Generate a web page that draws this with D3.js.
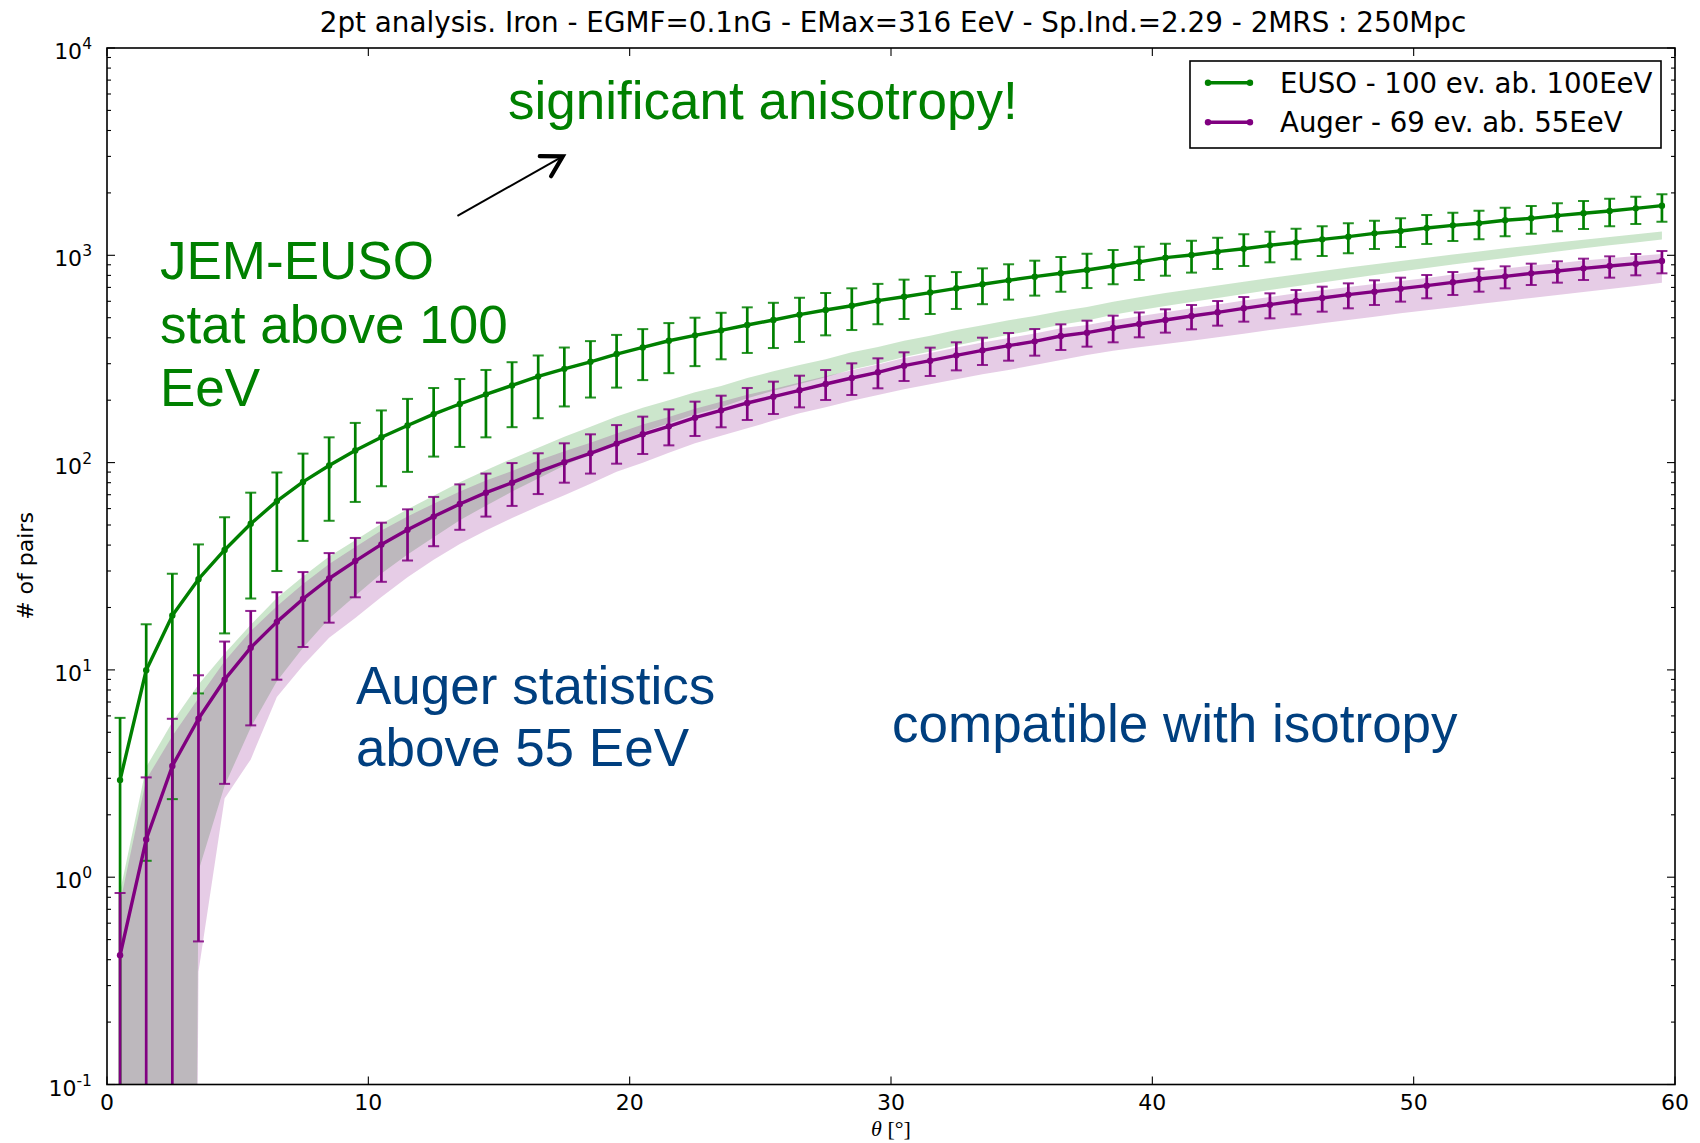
<!DOCTYPE html>
<html><head><meta charset="utf-8">
<script src="https://cdn.jsdelivr.net/npm/d3@7"></script>
<style>html,body{margin:0;padding:0;background:#fff;} svg{display:block}</style>
</head><body><svg id="c" width="1700" height="1143"></svg>
<script>
// ---------------- data ----------------
const theta = [0.5,1.5,2.5,3.5,4.5,5.5,6.5,7.5,8.5,9.5,10.5,11.5,12.5,13.5,14.5,15.5,16.5,17.5,18.5,19.5,20.5,21.5,22.5,23.5,24.5,25.5,26.5,27.5,28.5,29.5,30.5,31.5,32.5,33.5,34.5,35.5,36.5,37.5,38.5,39.5,40.5,41.5,42.5,43.5,44.5,45.5,46.5,47.5,48.5,49.5,50.5,51.5,52.5,53.5,54.5,55.5,56.5,57.5,58.5,59.5];

// EUSO - 100 ev. ab. 100EeV
const euso   = [2.94,9.96,18.3,27.4,37.9,50.7,65.2,80.7,96.8,114.5,132.5,151,171.4,191.7,213.4,235.6,260.4,283.3,306.4,334,359.6,387,411,434.5,461,487.5,517,544.5,571,604,631,661,693,725,757,789,819,849,888,930,974,1003,1041,1076,1117,1155,1194,1230,1276,1310,1354,1395,1427,1475,1508,1554,1595,1636,1685,1736];
const eusoHi = [5.87,16.6,29.1,40.3,54.5,71.6,89.6,110.5,132.4,155.4,178.5,202.9,229,253,279.8,305,328.6,359,385.5,413,440.5,471,500,528,561,590,624,658,693,728,763,794,830,865,905,942,981,1018,1061,1100,1138,1177,1216,1262,1300,1344,1380,1427,1469,1508,1565,1606,1642,1698,1729,1781,1828,1876,1918,1969];
const eusoLo = [0.01,1.2,2.38,7.7,15.0,22.1,30.0,41.9,52.4,64.6,76.9,90.2,106.9,119,132.4,148.2,163.7,186.6,206,230,250,270,292,315,338,357,382,411,436,465,493,521,551,581,611,639,667,695,725,760,797,825,859,888,925,956,992,1022,1073,1096,1134,1172,1194,1235,1272,1305,1340,1380,1416,1453];

// Auger - 69 ev. ab. 55EeV
const auger   = [0.42,1.52,3.44,5.81,8.97,12.8,17.05,22.0,27.6,33.5,40.3,47.4,54.9,63.1,71.6,80.0,90.2,100.4,110.9,123.5,136.9,149.6,164.7,178.7,193.9,208,223.2,239.4,255.9,272.6,293.5,310.2,329.2,348,366.5,384.6,408,423.5,446,466,487.5,509.6,530.8,554.9,578,601.9,622.3,645.8,667.7,690.3,713.7,740.7,768.6,791.7,818.5,840.1,865.3,888.1,911.4,938.9];
const augerHi = [0.839,3.03,5.81,9.42,13.7,19.25,23.7,29.65,36.6,43.3,51.3,59.5,68.3,78.5,88.5,99.5,110.9,123.9,136.9,151.7,166.6,180.7,196.8,210.3,229.1,245.8,262.6,279.7,301.2,318.4,340.4,358.5,380.4,400.5,421.8,441,464.5,483.8,511.5,530,548.8,575.8,601.9,629.2,655.4,680.1,705.8,732.4,757.3,780,803.5,830.6,861.9,884.6,911.4,935.3,963.3,988.5,1014.6,1049];
const augerLo = [0.01,0.01,0.01,0.49,2.82,5.40,8.97,12.9,16.9,22.4,26.6,33.7,39.5,47.4,54.9,61.8,70.5,80.0,88.5,98.8,110,121.1,134.4,148,160.5,171.6,184.7,200.4,211.9,228.2,247.5,261.6,278.6,295.7,310.2,328,349.3,362.5,380.4,402,423.5,439.5,457.7,478.5,496.5,519.1,534.7,554.9,575.8,597.6,620.2,643.4,667.7,692.9,719,737.9,760.2,780,800.5,818.6];

// isotropic expectation bands (nonpositive lower edges given as 1e-20)
const isoEusoLo  = [1e-20,1e-20,1e-20,1.07,2.76,5.28,8.81,12.8,17.7,22.8,29.2,36.0,43.7,52.7,62.0,72.5,83.7,96.7,110.2,125.6,140.5,154.7,171.3,185.1,204.4,221.9,239.7,257.9,280.9,299.6,323.4,343.4,367.6,390.1,414,435.9,462.4,485,516.9,543,569.4,596,623.1,651.4,680.1,709.7,740,771.1,803,835.6,868.6,902.4,936.8,971.6,1007,1043,1080,1117,1154,1192];
const isoEusoHi  = [0.85,3.4,5.6,8.5,12.0,16.5,22.2,28.2,35.2,42.2,50.7,59.5,69.2,80.5,91.8,104.5,117.8,133.2,148.9,166.7,183.8,200,218.5,234.3,256,275.5,295.3,315.5,340.8,361.4,387.5,409.4,435.8,460.2,486.1,509.8,538.6,562.7,597,627,658,686.5,715.8,745.8,776.5,808,840,872.6,906,939.7,974,1009,1044,1080,1116,1153,1190,1227,1264.5,1301];
const isoAugerLo = [1e-20,1e-20,1e-20,0.35,2.4,3.7,7.4,10.5,14.3,17.8,22.5,28,34,40.5,47,54,61.5,69.5,79,90.4,99.9,111.7,123.9,134.9,146.3,159.4,172.9,184.8,199,211.9,225.7,238.5,252.1,266.6,279.7,295.7,312.6,330.4,346.7,360,373.5,387.6,402.2,418.8,436.2,452.6,469.7,487.5,505.8,525,542.8,561.2,582.4,601.9,622.3,643.4,665.3,687.8,711,737.9];
const isoAugerHi = [0.75,2.96,4.8,7.3,11.0,15.4,20.3,26.0,32.4,39.2,47.0,55.0,63.4,72.6,82.0,91.2,102.4,113.5,124.8,138.3,152.7,166.1,182,196.6,212.4,226.7,243.3,260.9,278.9,297.1,319.9,338.1,358.8,379.3,399.5,419.2,444.7,461.6,486.1,507.9,531.4,555.5,578.6,604.8,630,656,678.3,703.9,727.8,752.4,777.9,807.4,837.8,862.9,892.2,915.7,943.2,968,993.4,1014];

const xTicks = [0,10,20,30,40,50,60];
const yExponents = [-1,0,1,2,3,4];
const legendLabels = ["EUSO - 100 ev. ab. 100EeV","Auger - 69 ev. ab. 55EeV"];
const title = "2pt analysis. Iron - EGMF=0.1nG - EMax=316 EeV - Sp.Ind.=2.29 - 2MRS : 250Mpc";

// ---------------- chart ----------------
const GREEN = "#008000", PURPLE = "#800080", BLUE = "#003f7f";
const m = {l:107, r:1675, t:48, b:1084.5};
const x = d3.scaleLinear().domain([0,60]).range([m.l,m.r]);
const y = d3.scaleLog().domain([0.1,1e4]).range([m.b,m.t]);
const svg = d3.select('#c');
svg.append('rect').attr('width',1700).attr('height',1143).attr('fill','#fff');
svg.append('defs').append('clipPath').attr('id','clip').append('rect')
  .attr('x',m.l).attr('y',m.t).attr('width',m.r-m.l).attr('height',m.b-m.t);
const plot = svg.append('g').attr('clip-path','url(#clip)');

function band(lo, hi, color){
  const area = d3.area().x((d,i)=>x(theta[i])).y0((d,i)=>y(lo[i])).y1((d,i)=>y(hi[i]));
  plot.append('path').datum(theta).attr('d',area).attr('fill',color).attr('fill-opacity',0.2);
}
band(isoEusoLo, isoEusoHi, GREEN);
band(isoAugerLo, isoAugerHi, PURPLE);

function series(vals, lo, hi, color){
  const g = plot.append('g');
  theta.forEach((t,i)=>{
    g.append('line').attr('x1',x(t)).attr('x2',x(t)).attr('y1',y(lo[i])).attr('y2',y(hi[i]))
      .attr('stroke',color).attr('stroke-width',2.7);
    [lo[i],hi[i]].forEach(v=>{
      g.append('line').attr('x1',x(t)-5.5).attr('x2',x(t)+5.5).attr('y1',y(v)).attr('y2',y(v))
        .attr('stroke',color).attr('stroke-width',2).attr('stroke-opacity',0.85);
    });
  });
  g.append('path').datum(vals)
    .attr('d', d3.line().x((d,i)=>x(theta[i])).y(d=>y(d)))
    .attr('fill','none').attr('stroke',color).attr('stroke-width',3.4).attr('stroke-linejoin','round');
  g.selectAll('circle.pt').data(vals).enter().append('circle')
    .attr('cx',(d,i)=>x(theta[i])).attr('cy',d=>y(d)).attr('r',3.2).attr('fill',color);
}
series(euso, eusoLo, eusoHi, GREEN);
series(auger, augerLo, augerHi, PURPLE);

// spines
svg.append('rect').attr('x',m.l).attr('y',m.t).attr('width',m.r-m.l).attr('height',m.b-m.t)
  .attr('fill','none').attr('stroke','#000').attr('stroke-width',1.6);

// ticks
const tk = svg.append('g').attr('stroke','#000').attr('stroke-width',1.1);
xTicks.forEach(v=>{
  tk.append('line').attr('x1',x(v)).attr('x2',x(v)).attr('y1',m.b).attr('y2',m.b-8);
  tk.append('line').attr('x1',x(v)).attr('x2',x(v)).attr('y1',m.t).attr('y2',m.t+8);
});
yExponents.forEach(e=>{
  const v = Math.pow(10,e);
  tk.append('line').attr('x1',m.l).attr('x2',m.l+8).attr('y1',y(v)).attr('y2',y(v));
  tk.append('line').attr('x1',m.r).attr('x2',m.r-8).attr('y1',y(v)).attr('y2',y(v));
  if (e < 4) for (let k=2;k<=9;k++){
    const mv = k*v;
    tk.append('line').attr('x1',m.l).attr('x2',m.l+4).attr('y1',y(mv)).attr('y2',y(mv));
    tk.append('line').attr('x1',m.r).attr('x2',m.r-4).attr('y1',y(mv)).attr('y2',y(mv));
  }
});

const FONT = "'DejaVu Sans', sans-serif";
// x tick labels
svg.append('g').selectAll('text').data(xTicks).enter().append('text')
  .attr('x',d=>x(d)).attr('y',1110).attr('text-anchor','middle')
  .attr('font-family',FONT).attr('font-size',22).text(d=>d);
// y tick labels
yExponents.forEach(e=>{
  const t = svg.append('text').attr('x',92).attr('y',y(Math.pow(10,e))+11)
    .attr('text-anchor','end').attr('font-family',FONT).attr('font-size',22);
  t.append('tspan').text('10');
  t.append('tspan').attr('font-size',15.5).attr('dy',-10).text(String(e));
});

// axis labels
const xl = svg.append('text').attr('x',891).attr('y',1136).attr('text-anchor','middle')
  .attr('font-size',22);
xl.append('tspan').attr('font-family',"'Liberation Serif', serif").attr('font-style','italic').text('θ');
xl.append('tspan').attr('font-family',"'Liberation Serif', serif").text(' [°]');
svg.append('text').attr('transform','translate(33,566) rotate(-90)').attr('text-anchor','middle')
  .attr('font-family',FONT).attr('font-size',22).text('# of pairs');

// title
svg.append('text').attr('x',893).attr('y',32).attr('text-anchor','middle')
  .attr('font-family',FONT).attr('font-size',27.8).text(title);

// legend
const lg = svg.append('g');
lg.append('rect').attr('x',1190).attr('y',61).attr('width',471).attr('height',87)
  .attr('fill','#fff').attr('stroke','#000').attr('stroke-width',1.6);
[[GREEN,82.7],[PURPLE,122.3]].forEach(([c,yy],i)=>{
  lg.append('line').attr('x1',1208).attr('x2',1250).attr('y1',yy).attr('y2',yy).attr('stroke',c).attr('stroke-width',3.4);
  lg.append('circle').attr('cx',1208).attr('cy',yy).attr('r',3.2).attr('fill',c);
  lg.append('circle').attr('cx',1250).attr('cy',yy).attr('r',3.2).attr('fill',c);
  lg.append('text').attr('x',1280).attr('y',yy+10).attr('font-family',FONT).attr('font-size',27.6).text(legendLabels[i]);
});

// annotations
const AFONT = "'Liberation Sans', Arial, sans-serif";
function note(txt, px, py, color){
  svg.append('text').attr('x',px).attr('y',py).attr('font-family',AFONT).attr('font-size',53)
    .attr('fill',color).text(txt);
}
note('significant anisotropy!', 508, 119, GREEN);
note('JEM-EUSO', 160, 279, GREEN);
note('stat above 100', 160, 343, GREEN);
note('EeV', 160, 406, GREEN);
note('Auger statistics', 356, 704, BLUE);
note('above 55 EeV', 356, 766, BLUE);
note('compatible with isotropy', 892, 742, BLUE);

// arrow (tail / head in data coordinates)
const arrowTail = [13.41, 1550], arrowHead = [17.44, 3000];
const tx = x(arrowTail[0]), ty = y(arrowTail[1]), hx = x(arrowHead[0]), hy = y(arrowHead[1]);
svg.append('line').attr('x1',tx).attr('y1',ty).attr('x2',hx).attr('y2',hy).attr('stroke','#000').attr('stroke-width',2);
const ang = Math.atan2(ty-hy, tx-hx), L = 23, a = Math.PI/6;
const p1 = [hx+L*Math.cos(ang+a), hy+L*Math.sin(ang+a)], p2 = [hx+L*Math.cos(ang-a), hy+L*Math.sin(ang-a)];
svg.append('path').attr('d',`M${p1[0]},${p1[1]}L${hx},${hy}L${p2[0]},${p2[1]}`)
  .attr('fill','none').attr('stroke','#000').attr('stroke-width',4.2).attr('stroke-linecap','round').attr('stroke-linejoin','miter');
</script>
</body></html>
